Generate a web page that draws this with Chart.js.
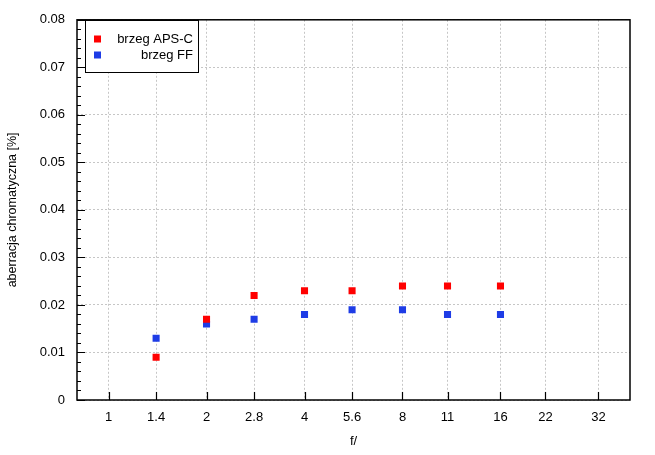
<!DOCTYPE html>
<html>
<head>
<meta charset="utf-8">
<script src="https://cdn.jsdelivr.net/npm/chart.js@4/dist/chart.umd.min.js"></script>
<style>
    body { margin: 0; background: #fff; }
    #wrap { width: 655px; height: 455px; }
</style>
</head>
<body>
<div id="wrap"><canvas id="myChart" width="655" height="455"></canvas></div>
<script>
// f-numbers along the bottom axis
const fStops = [1, 1.4, 2, 2.8, 4, 5.6, 8, 11, 16, 22, 32];
const fLabels = ['1', '1.4', '2', '2.8', '4', '5.6', '8', '11', '16', '22', '32'];

// measured points (f-number, value)
const measuredStops = [1.4, 2, 2.8, 4, 5.6, 8, 11, 16];
const apsc = [0.009, 0.017, 0.022, 0.023, 0.023, 0.024, 0.024, 0.024];
const ff = [0.013, 0.016, 0.017, 0.018, 0.019, 0.019, 0.018, 0.018];

const yTicks = [0, 0.01, 0.02, 0.03, 0.04, 0.05, 0.06, 0.07, 0.08];
const yLabels = ['0', '0.01', '0.02', '0.03', '0.04', '0.05', '0.06', '0.07', '0.08'];

const red = 'rgb(255, 0, 0)';
const blue = 'rgb(30, 60, 230)';
const fontFamily = '"Liberation Sans", Arial, sans-serif';

function toPoints(values) {
    return measuredStops.map((f, i) => ({ x: f, y: values[i] }));
}

// frame, inward ticks and the boxed legend
const extras = {
    id: 'extras',
    afterDraw(chart) {
        const ctx = chart.ctx;
        const area = chart.chartArea;
        const xs = chart.scales.x;
        const ys = chart.scales.y;

        ctx.save();
        ctx.strokeStyle = '#000';
        ctx.lineWidth = 1.5;
        ctx.strokeRect(area.left, area.top, area.right - area.left, area.bottom - area.top);

        ctx.lineWidth = 1.2;
        ctx.beginPath();
        fStops.forEach(f => {
            const px = Math.round(xs.getPixelForValue(f)) + 0.5;
            ctx.moveTo(px, area.bottom);
            ctx.lineTo(px, area.bottom - 8);
        });
        for (let i = 0; i <= 40; i++) {
            const v = i * 0.002;
            const py = Math.round(ys.getPixelForValue(v)) + 0.5;
            const len = (i % 5 === 0) ? 8 : 4;
            ctx.moveTo(area.left, py);
            ctx.lineTo(area.left + len, py);
        }
        ctx.stroke();

        // legend box
        const bx = 85, by = 20, bw = 113, bh = 52;
        ctx.fillStyle = '#fff';
        ctx.fillRect(bx, by, bw, bh);
        ctx.lineWidth = 1;
        ctx.strokeRect(bx + 0.5, by + 0.5, bw, bh);

        ctx.font = '13px ' + fontFamily;
        ctx.textAlign = 'right';
        ctx.textBaseline = 'middle';
        chart.data.datasets.forEach((ds, i) => {
            const cy = 39 + i * 16;
            ctx.fillStyle = ds.backgroundColor;
            ctx.fillRect(94, cy - 3.5, 7, 7);
            ctx.fillStyle = '#000';
            ctx.fillText(ds.label, 193, cy);
        });
        ctx.restore();
    }
};

const ctx = document.getElementById('myChart').getContext('2d');
const myChart = new Chart(ctx, {
    type: 'scatter',
    data: {
        datasets: [{
            label: 'brzeg APS-C',
            data: toPoints(apsc),
            backgroundColor: red,
            borderColor: red,
            borderWidth: 0,
            pointStyle: 'rect',
            pointRadius: 5
        }, {
            label: 'brzeg FF',
            data: toPoints(ff),
            backgroundColor: blue,
            borderColor: blue,
            borderWidth: 0,
            pointStyle: 'rect',
            pointRadius: 5
        }]
    },
    options: {
        responsive: false,
        animation: false,
        devicePixelRatio: 1,
        layout: { padding: { top: 16, right: 25, left: 0, bottom: 0 } },
        scales: {
            x: {
                type: 'logarithmic',
                min: 0.8,
                max: 40,
                afterBuildTicks: scale => {
                    scale.ticks = fStops.map(v => ({ value: v, major: false }));
                },
                afterFit: scale => { scale.height = 55; },
                ticks: {
                    autoSkip: false,
                    maxRotation: 0,
                    padding: 10,
                    color: '#000',
                    font: { family: fontFamily, size: 13 },
                    callback: value => {
                        const i = fStops.indexOf(value);
                        return i >= 0 ? fLabels[i] : '';
                    }
                },
                grid: { color: '#c6c6c6', lineWidth: 1, drawTicks: false },
                border: { display: false, dash: [2, 2] },
                title: {
                    display: true,
                    text: 'f/',
                    color: '#000',
                    font: { family: fontFamily, size: 13 },
                    padding: { top: 0, bottom: 6 }
                }
            },
            y: {
                min: 0,
                max: 0.08,
                afterBuildTicks: scale => {
                    scale.ticks = yTicks.map(v => ({ value: v }));
                },
                afterFit: scale => { scale.width = 77; },
                ticks: {
                    padding: 12,
                    color: '#000',
                    font: { family: fontFamily, size: 13 },
                    callback: value => {
                        const i = yTicks.findIndex(t => Math.abs(t - value) < 1e-9);
                        return i >= 0 ? yLabels[i] : '';
                    }
                },
                grid: { color: '#c6c6c6', lineWidth: 1, drawTicks: false },
                border: { display: false, dash: [2, 2] },
                title: {
                    display: true,
                    text: 'aberracja chromatyczna [%]',
                    color: '#000',
                    font: { family: fontFamily, size: 12.5 },
                    padding: { top: 5, bottom: 0 }
                }
            }
        },
        plugins: {
            legend: { display: false },
            tooltip: { enabled: false }
        }
    },
    plugins: [extras]
});
</script>
</body>
</html>
